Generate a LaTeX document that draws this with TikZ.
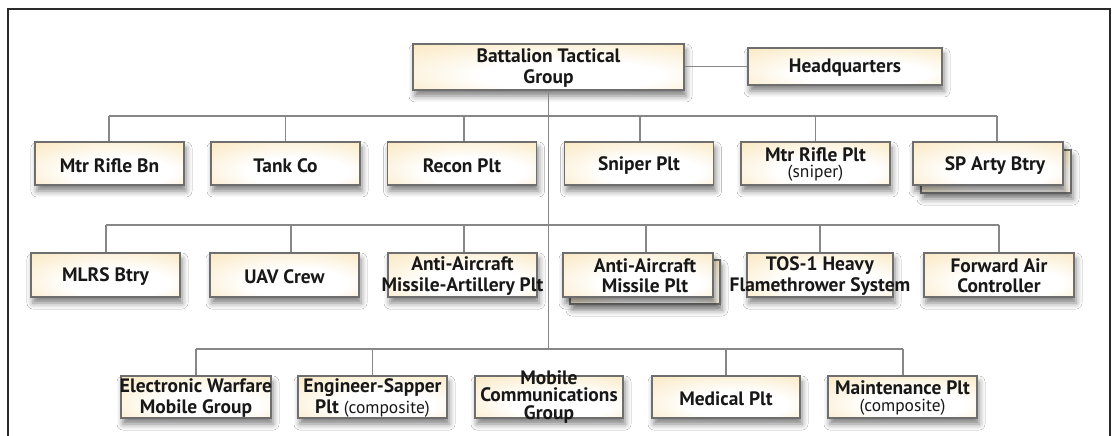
\documentclass[tikz,border=0pt]{standalone}
\usepackage{fontspec}
\setmainfont{PT Sans}
\usetikzlibrary{shadows.blur}
\definecolor{boxfill}{HTML}{F8DFA8}
\definecolor{boxline}{HTML}{6E6E6E}
\definecolor{connc}{HTML}{878787}
\definecolor{framec}{HTML}{2A2A2A}
\definecolor{textc}{HTML}{181818}
\pgfdeclareradialshading{boxshade}{\pgfpoint{6bp}{-14bp}}{color(0bp)=(white); color(17bp)=(white); color(48bp)=(boxfill); color(50bp)=(boxfill)}
\tikzset{
  box/.style={draw=boxline, line width=1.3bp, shading=boxshade, inner sep=0pt,
    minimum width=149bp, minimum height=43bp,
    blur shadow={shadow xshift=2bp, shadow yshift=-6bp, shadow blur radius=6bp, shadow opacity=50}},
  lbl/.style={inner sep=0pt, align=center, text=textc, font=\fontsize{19.5}{20.5}\selectfont\bfseries},
  conn/.style={draw=connc, line width=1.3bp},
  framebox/.style={draw=framec, line width=1.4bp}
}
\newcommand{\sm}[1]{{\fontsize{17.5}{17}\selectfont\mdseries #1}}
\begin{document}
\begin{tikzpicture}[x=1bp,y=-1bp]
\useasboundingbox (0,0) rectangle (1115,436);
\clip (0,0) rectangle (1115,436);
\fill[white] (0,0) rectangle (1115,436);
\draw[framebox] (8,9) rectangle (1110,470);

% junction coordinates
\coordinate (j1L) at (109,116);
\coordinate (j1R) at (997,116);
\coordinate (j2L) at (106,225);
\coordinate (j2R) at (999,225);
\coordinate (j3L) at (196,349);
\coordinate (j3R) at (903,349);
\coordinate (d2b) at (291,225);
\coordinate (d2c) at (464,225);
\coordinate (d2d) at (646,225);
\coordinate (d1c) at (464,116);
\coordinate (d1d) at (640,116);
\coordinate (d3c) at (549,349);

% top
\node[box, minimum width=271bp, minimum height=46bp] (btg) at (548.5,67) {};
\node[box, minimum width=194bp, minimum height=37bp] (hq) at (845,66.5) {};

% row 1
\node[box] (r1a) at (109.5,163.5) {};
\node[box] (r1b) at (285.5,163.5) {};
\node[box] (r1c) at (462,163.5) {};
\node[box] (r1d) at (639,163.5) {};
\node[box] (r1e) at (815.5,163.5) {};
\node[box, minimum width=150bp] (r1fb) at (996,171.5) {};
\node[box, minimum width=150bp] (r1f) at (988,163.5) {};

% row 2
\node[box, minimum height=44bp] (r2a) at (105.5,275) {};
\node[box, minimum height=44bp] (r2b) at (284.5,275) {};
\node[box, minimum height=44bp] (r2c) at (462.5,275) {};
\node[box, minimum width=150bp, minimum height=44bp] (r2db) at (645,282) {};
\node[box, minimum width=150bp, minimum height=44bp] (r2d) at (638,275) {};
\node[box, minimum width=146bp, minimum height=44bp] (r2e) at (820,275) {};
\node[box, minimum width=150bp, minimum height=44bp] (r2f) at (999,275) {};

% row 3
\node[box, minimum width=150bp, minimum height=42bp] (r3a) at (196,397) {};
\node[box, minimum height=42bp] (r3b) at (372.5,397) {};
\node[box, minimum width=148bp, minimum height=42bp] (r3c) at (549,397) {};
\node[box, minimum width=148bp, minimum height=42bp] (r3d) at (726,397) {};
\node[box, minimum height=42bp] (r3e) at (902.5,397) {};

% connectors
\draw[conn] (btg.south) -- (btg.south |- d3c);
\draw[conn] (hq.west) -- (hq.west -| btg.east);
\draw[conn] (j1L) -- (j1R);
\draw[conn] (j2L) -- (j2R);
\draw[conn] (j3L) -- (j3R);
\draw[conn] (j1L) -- (j1L |- r1a.north);
\draw[conn] (r1b.north) -- (r1b.north |- j1L);
\draw[conn] (d1c) -- (d1c |- r1c.north);
\draw[conn] (d1d) -- (d1d |- r1d.north);
\draw[conn] (r1e.north) -- (r1e.north |- j1L);
\draw[conn] (j1R) -- (j1R |- r1f.north);
\draw[conn] (j2L) -- (j2L |- r2a.north);
\draw[conn] (d2b) -- (d2b |- r2b.north);
\draw[conn] (d2c) -- (d2c |- r2c.north);
\draw[conn] (d2d) -- (d2d |- r2d.north);
\draw[conn] (r2e.north) -- (r2e.north |- j2L);
\draw[conn] (j2R) -- (j2R |- r2f.north);
\draw[conn] (j3L) -- (j3L |- r3a.north);
\draw[conn] (r3b.north) -- (r3b.north |- j3L);
\draw[conn] (r3d.north) -- (r3d.north |- j3L);
\draw[conn] (j3R) -- (j3R |- r3e.north);

% labels
\node[lbl] (tbtg) at ([yshift=-1bp]btg.center) {Battalion Tactical\\Group};
\node[lbl] (thq) at ([yshift=-1bp]hq.center) {Headquarters};
\node[lbl] (t1a) at ([yshift=-2bp]r1a.center) {Mtr Rifle Bn};
\node[lbl] (t1b) at ([yshift=-2bp]r1b.center) {Tank Co};
\node[lbl] (t1c) at ([yshift=-2bp]r1c.center) {Recon Plt};
\node[lbl] (t1d) at ([yshift=-2bp]r1d.center) {Sniper Plt};
\node[lbl] (t1e) at ([yshift=-1bp]r1e.center) {Mtr Rifle Plt\\[-4bp]\sm{(sniper)}};
\node[lbl] (t1f) at ([xshift=7bp,yshift=-2bp]r1f.center) {SP Arty Btry};
\node[lbl] (t2a) at ([yshift=-2bp]r2a.center) {MLRS Btry};
\node[lbl] (t2b) at ([yshift=-2bp]r2b.center) {UAV Crew};
\node[lbl] (t2c) at ([yshift=-1bp]r2c.center) {Anti-Aircraft\\Missile-Artillery Plt};
\node[lbl] (t2d) at ([xshift=7bp,yshift=-1bp]r2d.center) {Anti-Aircraft\\Missile Plt};
\node[lbl] (t2e) at ([yshift=-1bp]r2e.center) {TOS-1 Heavy\\Flamethrower System};
\node[lbl] (t2f) at ([yshift=-1bp]r2f.center) {Forward Air\\Controller};
\node[lbl] (t3a) at ([yshift=-1bp]r3a.center) {Electronic Warfare\\Mobile Group};
\node[lbl] (t3b) at ([yshift=-1bp]r3b.center) {Engineer-Sapper\\Plt \sm{(composite)}};
\node[lbl, font=\fontsize{19.5}{17.5}\selectfont\bfseries] (t3c) at (r3c.center) {Mobile\\Communications\\Group};
\node[lbl] (t3d) at ([yshift=-2bp]r3d.center) {Medical Plt};
\node[lbl] (t3e) at ([yshift=-1bp]r3e.center) {Maintenance Plt\\[-4bp]\sm{(composite)}};
\end{tikzpicture}
\end{document}
